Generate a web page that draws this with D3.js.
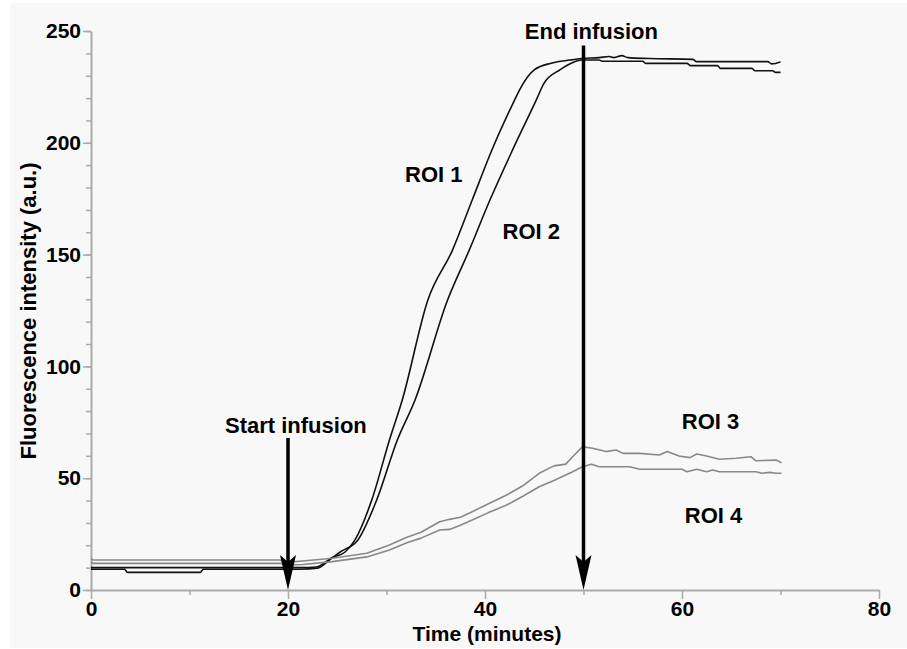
<!DOCTYPE html>
<html>
<head>
<meta charset="utf-8">
<script src="https://cdn.jsdelivr.net/npm/d3@7"></script>
<style>
  body { margin: 0; background: #fff; }
  text { font-family: "Liberation Sans", Arial, sans-serif; font-weight: bold; fill: #000; }
</style>
</head>
<body>
<script>
// time (minutes), intensity (a.u.)
var roi1 = [[0,10],[21.2,10],[22.9,10.3],[23.7,12.1],[24.4,14.3],[25.8,17],[26.8,22.4],[28.5,40.2],
  [30.3,67.1],[31.6,85],[34.2,129.7],[36.7,152],[38.7,174.4],[40.7,196.8],[43,219.1],[43.5,223.6],
  [45,232.6],[46.8,235.7],[48.6,237],[49.8,237.7],[51.6,238.1],[52.6,238.6],[53.1,238.1],[53.9,239],
  [54.5,238.1],[56.7,237.7],[61.1,237.3],[61.5,236.3],[68.7,236.3],[69.1,235.3],[69.5,235.5],[70,236.1]];
var roi2 = [[0,9.3],[3.4,9.3],[3.7,7.9],[11.1,7.9],[11.4,9.3],[21.2,9.3],[23,9.8],[24.2,13.4],[25.3,17],
  [27.1,22.4],[29,40.2],[31.1,67.1],[32.9,85],[36.2,129.7],[38.4,152],[40.5,174.4],[42.8,196.8],
  [45.2,219.1],[46,226.7],[47.6,232.6],[48.8,235.7],[49.8,237],[51.6,237],[51.9,236.5],[56,236.5],
  [56.3,235.5],[60.5,235.5],[60.9,234.5],[63.6,234.5],[63.9,233.3],[67.1,233.3],[67.4,232.2],
  [69.2,232.2],[69.5,231.5],[70,231.5]];
var roi3 = [[0,14.1],[0.2,13.4],[19.2,13.4],[19.7,12.5],[20.2,12.5],[21.5,13],[24.5,14.2],[28,16.4],
  [30.3,20.1],[32,23.5],[33.5,25.8],[35.4,30.5],[36.4,31.6],[37.5,32.5],[38.7,35],[40.3,38.5],
  [42.2,42.5],[43.8,46.5],[45.5,52.2],[47,55.5],[48.2,56.3],[48.9,59.6],[49.9,64.1],[50.9,63.4],
  [52.3,61.9],[53.3,62.6],[54,61.1],[55.7,61.1],[57.7,60.4],[58.5,61.9],[59.7,59.9],[60.8,59.2],
  [61.5,60.8],[62.5,59.9],[63.8,58.5],[65.5,58.9],[67,59.6],[67.5,57.8],[69.6,58.1],[70.1,56.9]];
var roi4 = [[0,12.5],[0.2,11.9],[19.2,11.9],[20.2,11.2],[21.5,11.4],[24.5,12.7],[28,14.8],[30.3,17.9],
  [32,21],[33.5,23.2],[35.4,26.8],[36.4,27.1],[37.5,29],[38.7,31.3],[40.3,34.5],[42.2,38],[43.8,41.8],
  [45.5,46.2],[47,49],[48.9,52.9],[49.9,55.1],[50.8,56.2],[51.6,55.1],[54.7,55.1],[55.7,54],[60,54],
  [60.5,52.9],[61.5,54],[62.5,52.9],[63.1,53.7],[63.8,52.9],[67.5,52.9],[68.1,52.2],[68.9,52.6],
  [69.6,52.2],[70.1,52.2]];

var xTicks = [0, 20, 40, 60, 80];
var xMinor = [10, 30, 50, 70];
var yTicks = [0, 50, 100, 150, 200, 250];
var yMinor = d3.range(0, 251, 10);

// arrows: time, top of shaft (a.u.), label
var arrowTimes = [20, 50];
var arrowTops = [68, 243.5];
var arrowLabels = ["Start infusion", "End infusion"];
var arrowLabelAt = [[20.8, 70.2], [50.8, 246.5]];

var roiNames = ["ROI 1", "ROI 2", "ROI 3", "ROI 4"];
var roiLabelAt = [[34.8, 182.5], [44.7, 157], [62.9, 72], [63.2, 30]];

var width = 907, height = 649;
var svg = d3.select("body").append("svg")
    .attr("width", width)
    .attr("height", height);

svg.append("rect")
    .attr("x", 10).attr("y", 3)
    .attr("width", width - 10).attr("height", height - 4)
    .attr("fill", "#f8f8f8");

var x = d3.scaleLinear().domain([0, 80]).range([91, 879]);
var y = d3.scaleLinear().domain([0, 250]).range([590, 31]);

// minor ticks
svg.append("g")
    .attr("transform", "translate(0,590)")
    .call(d3.axisBottom(x).tickValues(xMinor).tickSize(5).tickFormat(""))
    .call(g => g.select(".domain").remove());
svg.append("g")
    .attr("transform", "translate(91,0)")
    .call(d3.axisLeft(y).tickValues(yMinor).tickSize(5).tickFormat(""))
    .call(g => g.select(".domain").remove());

var xAxis = svg.append("g")
    .attr("transform", "translate(0,590)")
    .call(d3.axisBottom(x).tickValues(xTicks).tickSize(9).tickSizeOuter(0).tickPadding(2));
var yAxis = svg.append("g")
    .attr("transform", "translate(91,0)")
    .call(d3.axisLeft(y).tickValues(yTicks).tickSize(8).tickSizeOuter(0).tickPadding(2));

svg.selectAll(".domain").attr("stroke", "#aaa").attr("stroke-width", 2);
svg.selectAll(".tick line").attr("stroke", "#aaa").attr("stroke-width", 1.5);
svg.selectAll(".tick text")
    .attr("font-family", "Liberation Sans, Arial, sans-serif")
    .attr("font-weight", "bold")
    .attr("font-size", 21)
    .attr("fill", "#000");

svg.append("text")
    .attr("x", 487).attr("y", 641)
    .attr("text-anchor", "middle")
    .attr("font-size", 21)
    .text("Time (minutes)");

svg.append("text")
    .attr("transform", "translate(36,311) rotate(-90)")
    .attr("text-anchor", "middle")
    .attr("font-size", 22)
    .text("Fluorescence intensity (a.u.)");

var smooth = d3.line()
    .curve(d3.curveMonotoneX)
    .x(d => x(d[0]))
    .y(d => y(d[1]));
var plain = d3.line()
    .x(d => x(d[0]))
    .y(d => y(d[1]));

var series = [roi1, roi2, roi3, roi4];
var colors = ["#111", "#111", "#888", "#888"];
svg.selectAll("path.roi")
    .data(series)
    .enter()
    .append("path")
    .attr("class", "roi")
    .attr("d", (d, i) => i < 2 ? smooth(d) : plain(d))
    .attr("fill", "none")
    .attr("stroke", (d, i) => colors[i])
    .attr("stroke-width", 1.6)
    .attr("stroke-linejoin", "round");

svg.selectAll("text.roi")
    .data(roiNames)
    .enter()
    .append("text")
    .attr("class", "roi")
    .attr("x", (d, i) => x(roiLabelAt[i][0]))
    .attr("y", (d, i) => y(roiLabelAt[i][1]))
    .attr("text-anchor", "middle")
    .attr("font-size", 22)
    .text(d => d);

// arrows
arrowTimes.forEach(function(t, i) {
    var ax = x(t), tip = y(0);
    svg.append("line")
        .attr("x1", ax).attr("x2", ax)
        .attr("y1", y(arrowTops[i])).attr("y2", tip - 20)
        .attr("stroke", "#000")
        .attr("stroke-width", 3.5);
    svg.append("path")
        .attr("d", "M" + ax + "," + tip + "L" + (ax - 8) + "," + (tip - 35) +
                   "L" + ax + "," + (tip - 28) + "L" + (ax + 8) + "," + (tip - 35) + "Z")
        .attr("fill", "#000");
    svg.append("text")
        .attr("x", x(arrowLabelAt[i][0]))
        .attr("y", y(arrowLabelAt[i][1]))
        .attr("text-anchor", "middle")
        .attr("font-size", 22)
        .text(arrowLabels[i]);
});
</script>
</body>
</html>
